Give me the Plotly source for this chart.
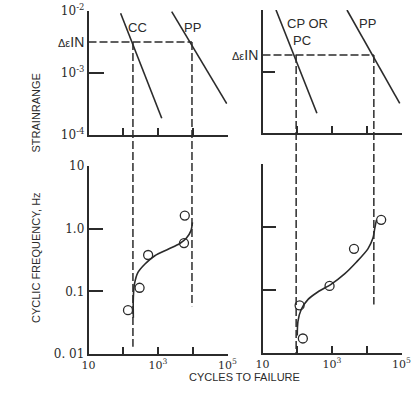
import math
import plotly.graph_objects as go

# ---------------- data ----------------
# top panels: strainrange vs cycles to failure (life lines)
cc_n = [84, 1280]
cc_strain = [9.2e-3, 1.86e-4]
pp_left_n = [2480, 95000]
pp_left_strain = [9.8e-3, 3.2e-4]
cp_n = [24.5, 368]
cp_strain = [1.0e-2, 2.09e-4]
pp_right_n = [2700, 89000]
pp_right_strain = [1.0e-2, 3.03e-4]

de_in_left = 3.16e-3
de_in_right = 1.86e-3
life_left = [190, 9500]          # intersections with delta-eps_IN
life_right = [93, 16000]
dash_end_left = [0.013, 0.058]   # where dashed drop lines stop (Hz)
dash_end_right = [0.01, 0.059]

# bottom panels: cyclic frequency vs cycles to failure
left_pts_n = [137, 295, 520, 5600, 5900]
left_pts_f = [0.050, 0.114, 0.38, 0.59, 1.62]
left_fit_n = [195, 195, 210, 265, 415, 810, 1950, 4250, 6600, 8900, 9800]
left_fit_f = [0.038, 0.079, 0.13, 0.20, 0.27, 0.37, 0.47, 0.58, 0.71, 0.93, 1.26]

right_pts_n = [145, 117, 850, 4300, 26000]
right_pts_f = [0.017, 0.057, 0.116, 0.45, 1.30]
right_fit_n = [100, 105, 130, 205, 390, 960, 2300, 5000, 10800, 15000, 17000, 19000]
right_fit_f = [0.019, 0.032, 0.049, 0.071, 0.093, 0.124, 0.18, 0.276, 0.45, 0.66, 0.95, 1.30]

x_ticks = [10, 100, 1000, 10000, 100000]
x_ticktext = ["10", " ", "10<sup>3</sup>", " ", "10<sup>5</sup>"]
strain_ticks = [1e-2, 1e-3, 1e-4]
strain_ticktext = ["10<sup>-2</sup>", "10<sup>-3</sup>", "10<sup>-4</sup>"]
freq_ticks = [10, 1, 0.1, 0.01]
freq_ticktext = ["10", "1.0", "0.1", "0. 01"]

# ---------------- layout geometry ----------------
W, H = 412, 393
INK = "#2b2b2b"
SANS = "Liberation Sans, Arial, sans-serif"
SERIF = "DejaVu Serif, serif"


def fx(px):
    return px / W


def fy(py):
    return 1 - py / H


dom_x_left = [fx(88.5), fx(227.5)]
dom_x_right = [fx(262.5), fx(401.5)]
dom_y_top_left = [fy(135), fy(11)]
dom_y_top_right = [fy(133), fy(10)]
dom_y_bot_left = [fy(354), fy(166)]
dom_y_bot_right = [fy(353), fy(164)]
rng_x = [1, 5]
rng_strain = [-4, -2]
rng_freq = [-2, 1]


def paper_y(v, dom, rng):
    return dom[0] + (math.log10(v) - rng[0]) / (rng[1] - rng[0]) * (dom[1] - dom[0])


fig = go.Figure()

line_style = dict(color=INK, width=1.6)
dash_style = dict(color=INK, width=1.5, dash="8px,3px")

# top-left
fig.add_trace(go.Scatter(x=cc_n, y=cc_strain, mode="lines", line=line_style, xaxis="x", yaxis="y"))
fig.add_trace(go.Scatter(x=pp_left_n, y=pp_left_strain, mode="lines", line=line_style, xaxis="x", yaxis="y"))
fig.add_trace(go.Scatter(x=[10, life_left[1]], y=[de_in_left, de_in_left], mode="lines",
                         line=dash_style, xaxis="x", yaxis="y"))
# top-right
fig.add_trace(go.Scatter(x=cp_n, y=cp_strain, mode="lines", line=line_style, xaxis="x2", yaxis="y2"))
fig.add_trace(go.Scatter(x=pp_right_n, y=pp_right_strain, mode="lines", line=line_style, xaxis="x2", yaxis="y2"))
fig.add_trace(go.Scatter(x=[10, life_right[1]], y=[de_in_right, de_in_right], mode="lines",
                         line=dash_style, xaxis="x2", yaxis="y2"))
# bottom-left
fig.add_trace(go.Scatter(x=left_fit_n, y=left_fit_f, mode="lines",
                         line=dict(color=INK, width=1.6, shape="spline", smoothing=0.8),
                         xaxis="x3", yaxis="y3"))
fig.add_trace(go.Scatter(x=left_pts_n, y=left_pts_f, mode="markers",
                         marker=dict(symbol="circle-open", size=9, color=INK, line=dict(width=1.3)),
                         xaxis="x3", yaxis="y3"))
# bottom-right
fig.add_trace(go.Scatter(x=right_fit_n, y=right_fit_f, mode="lines",
                         line=dict(color=INK, width=1.6, shape="spline", smoothing=0.8),
                         xaxis="x4", yaxis="y4"))
fig.add_trace(go.Scatter(x=right_pts_n, y=right_pts_f, mode="markers",
                         marker=dict(symbol="circle-open", size=9, color=INK, line=dict(width=1.3)),
                         xaxis="x4", yaxis="y4"))

# vertical dashed drop lines (span both panels)
shapes = []
for n, end in zip(life_left, dash_end_left):
    shapes.append(dict(type="line", xref="x", yref="paper", x0=n, x1=n,
                       y0=paper_y(de_in_left, dom_y_top_left, rng_strain),
                       y1=paper_y(end, dom_y_bot_left, rng_freq), line=dash_style))
for n, end in zip(life_right, dash_end_right):
    shapes.append(dict(type="line", xref="x2", yref="paper", x0=n, x1=n,
                       y0=paper_y(de_in_right, dom_y_top_right, rng_strain),
                       y1=paper_y(end, dom_y_bot_right, rng_freq), line=dash_style))

axis_common = dict(type="log", showline=True, linecolor=INK, linewidth=1.6, showgrid=False,
                   zeroline=False, ticks="inside", tickcolor=INK, tickwidth=1.5, mirror=False,
                   automargin=False)
xcommon = dict(axis_common, range=rng_x, tickvals=x_ticks, ticklen=7)
tick_font = dict(family=SERIF, size=12, color=INK)
xtick_font = dict(family=SERIF, size=11, color=INK)

layout = dict(
    width=W, height=H, margin=dict(l=0, r=0, t=0, b=0, autoexpand=False),
    paper_bgcolor="white", plot_bgcolor="white", showlegend=False,
    xaxis=dict(xcommon, domain=dom_x_left, anchor="y", showticklabels=False),
    yaxis=dict(axis_common, domain=dom_y_top_left, range=rng_strain, anchor="x",
               tickvals=strain_ticks, ticktext=strain_ticktext, ticklen=16, tickfont=tick_font),
    xaxis2=dict(xcommon, domain=dom_x_right, anchor="y2", showticklabels=False),
    yaxis2=dict(axis_common, domain=dom_y_top_right, range=rng_strain, anchor="x2",
                tickvals=strain_ticks, ticklen=13, showticklabels=False),
    xaxis3=dict(xcommon, domain=dom_x_left, anchor="y3", ticktext=x_ticktext, tickfont=xtick_font),
    yaxis3=dict(axis_common, domain=dom_y_bot_left, range=rng_freq, anchor="x3",
                tickvals=freq_ticks, ticktext=freq_ticktext, ticklen=15, tickfont=tick_font),
    xaxis4=dict(xcommon, domain=dom_x_right, anchor="y4", ticktext=x_ticktext, tickfont=xtick_font),
    yaxis4=dict(axis_common, domain=dom_y_bot_right, range=rng_freq, anchor="x4",
                tickvals=freq_ticks, ticklen=14, showticklabels=False),
    shapes=shapes,
)
fig.update_layout(**layout)

de_text = "<span style='font-size:11px'>Δε</span><span style='font-size:14px'>IN</span>"
label_font = dict(family=SANS, size=13, color=INK)
ann = [
    dict(text=de_text, xref="x domain", yref="y", x=0, y=math.log10(de_in_left), xanchor="right",
         yanchor="middle", xshift=-3, showarrow=False, font=dict(family=SANS, size=13, color=INK)),
    dict(text=de_text, xref="x2 domain", yref="y2", x=0, y=math.log10(de_in_right), xanchor="right",
         yanchor="middle", xshift=-3, showarrow=False, font=dict(family=SANS, size=13, color=INK)),
    dict(text="CC", xref="x", yref="y", x=math.log10(249), y=math.log10(5.5e-3), showarrow=False, font=label_font),
    dict(text="PP", xref="x", yref="y", x=math.log10(10000), y=math.log10(5.5e-3), showarrow=False, font=label_font),
    dict(text="CP OR", xref="x2", yref="y2", x=math.log10(191), y=math.log10(6.1e-3), showarrow=False, font=label_font),
    dict(text="PC", xref="x2", yref="y2", x=math.log10(137), y=math.log10(3.2e-3), showarrow=False, font=label_font),
    dict(text="PP", xref="x2", yref="y2", x=math.log10(10200), y=math.log10(6.1e-3), showarrow=False, font=label_font),
    dict(text="STRAINRANGE", xref="paper", yref="paper", x=fx(28), y=fy(72), textangle=-90,
         showarrow=False, font=dict(family=SANS, size=11, color=INK)),
    dict(text="CYCLIC FREQUENCY, Hz", xref="paper", yref="paper", x=fx(28), y=fy(258), textangle=-90,
         showarrow=False, font=dict(family=SANS, size=11, color=INK)),
    dict(text="CYCLES TO FAILURE", xref="paper", yref="paper", x=fx(245), y=fy(385),
         showarrow=False, font=dict(family=SANS, size=11, color=INK)),
]
fig.update_layout(annotations=ann)

# remove the browser's default 8px body margin so the figure sits at the page origin
fig.write_html("out.html", config={"displayModeBar": False},
               post_script="document.body.style.margin='0';document.body.style.overflow='hidden';")
